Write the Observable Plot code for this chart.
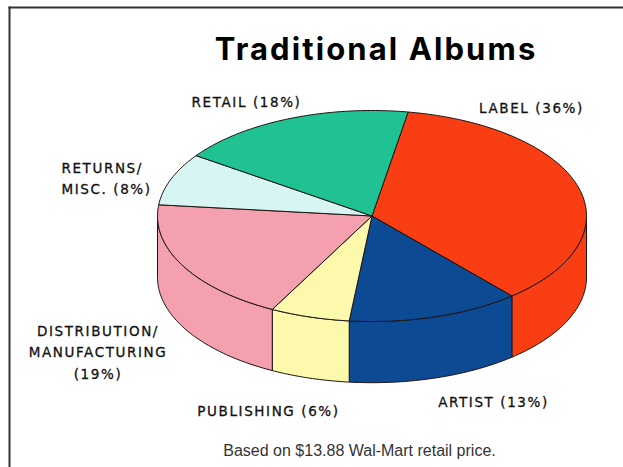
<!DOCTYPE html>
<html>
<head>
<meta charset="utf-8">
<script src="https://cdn.jsdelivr.net/npm/d3@7"></script>
<script src="https://cdn.jsdelivr.net/npm/@observablehq/plot@0.6"></script>
<style>
  html, body { margin: 0; padding: 0; background: #fff; }
  svg { display: block; }
</style>
</head>
<body>
<div id="chart"></div>
<script>
// Where the money from one album goes, as shares of the retail price
const categories = ["LABEL", "ARTIST", "PUBLISHING", "DISTRIBUTION", "RETURNS", "RETAIL"];
const shares = [36, 13, 6, 19, 8, 18];
const sliceColors = ["#f83e12", "#0d4a94", "#fcf8ac", "#f4a0ae", "#d6f5f3", "#20c294"];
const title = "Traditional Albums";
const caption = "Based on $13.88 Wal-Mart retail price.";

const startAngle = 9.7;   // degrees clockwise from twelve o'clock
const depth = 0.58;       // wall height, in units of the ellipse's vertical radius
const step = 1;

// Unit-ellipse point for an angle, pushed down by the wall height when asked
const rim = (deg, drop = 0) => ({
  x: Math.sin(deg * Math.PI / 180),
  y: -Math.cos(deg * Math.PI / 180) + drop
});
const sweep = (a, b) => d3.range(a, b, step).concat(b);

let angle = startAngle;
const slices = categories.map((name, i) => {
  const a0 = angle;
  const a1 = angle + shares[i] * 3.6;
  angle = a1;
  return {name, a0, a1, color: sliceColors[i]};
});

// Top faces: centre, rim arc, back to the centre
const topFaces = slices.flatMap(s =>
  [{x: 0, y: 0}, ...sweep(s.a0, s.a1).map(d => rim(d)), {x: 0, y: 0}]
    .map(p => ({...p, name: s.name, color: s.color}))
);

// Side walls only exist on the near half of the ellipse
const walls = slices.flatMap(s => {
  const a0 = Math.max(s.a0, 90);
  const a1 = Math.min(s.a1, 270);
  if (a1 <= a0) return [];
  const arc = sweep(a0, a1);
  const top = arc.map(d => rim(d));
  const bottom = arc.slice().reverse().map(d => rim(d, depth));
  return [...top, ...bottom, top[0]].map(p => ({...p, name: s.name, color: s.color}));
});

const edge = {x: "x", y: "y", z: "name", fill: "color", stroke: "#1c1412", strokeWidth: 1, curve: "linear", strokeLinejoin: "round"};

// Spaced-out lettering is set on the rendered group, since text marks have no option for it
const spaced = (px) => (index, scales, values, dimensions, context, next) => {
  const g = next(index, scales, values, dimensions, context);
  g.style.letterSpacing = px + "px";
  return g;
};

const labelFont = {fontFamily: "'DejaVu Sans', sans-serif", fontSize: 13.5, fill: "#111", stroke: "#111", strokeWidth: 0.3, lineHeight: 1.6, render: spaced(1.6)};
const titleFont = {fontFamily: "Inter, sans-serif", fontSize: 31, fontWeight: 700, fill: "#000", render: spaced(2.1)};
const captionFont = {fontFamily: "'Liberation Sans', Arial, sans-serif", fontSize: 16, fill: "#333"};

// Text placed relative to the frame's top-left corner
const note = (text, dx, dy, textAnchor, font = labelFont) =>
  Plot.text([text], {...font, text: d => d, frameAnchor: "top-left", dx, dy, textAnchor, lineAnchor: "middle"});

const chart = Plot.plot({
  width: 623,
  height: 467,
  marginTop: 7,
  marginLeft: 9,
  marginRight: 0,
  marginBottom: 0,
  style: {background: "#fff"},
  x: {domain: [-1, 1], range: [157, 586], axis: null},
  y: {domain: [-1, 1], range: [110, 321], axis: null},
  color: {type: "identity"},
  marks: [
    Plot.frame({anchor: "top", stroke: "#333", strokeWidth: 2}),
    Plot.frame({anchor: "left", stroke: "#333", strokeWidth: 2}),
    Plot.line(walls, edge),
    Plot.line(topFaces, edge),
    note(title, 366.5, 43, "middle", titleFont),
    note("RETAIL (18%)", 237, 92.5, "middle"),
    note("LABEL (36%)", 522, 99, "middle"),
    note("RETURNS/\nMISC. (8%)", 52, 169, "start"),
    note("DISTRIBUTION/\nMANUFACTURING\n(19%)", 88.5, 343, "middle"),
    note("PUBLISHING (6%)", 259, 401.5, "middle"),
    note("ARTIST (13%)", 484, 393, "middle"),
    note(caption, 350, 443, "middle", captionFont)
  ]
});
document.getElementById("chart").append(chart);
</script>
</body>
</html>
